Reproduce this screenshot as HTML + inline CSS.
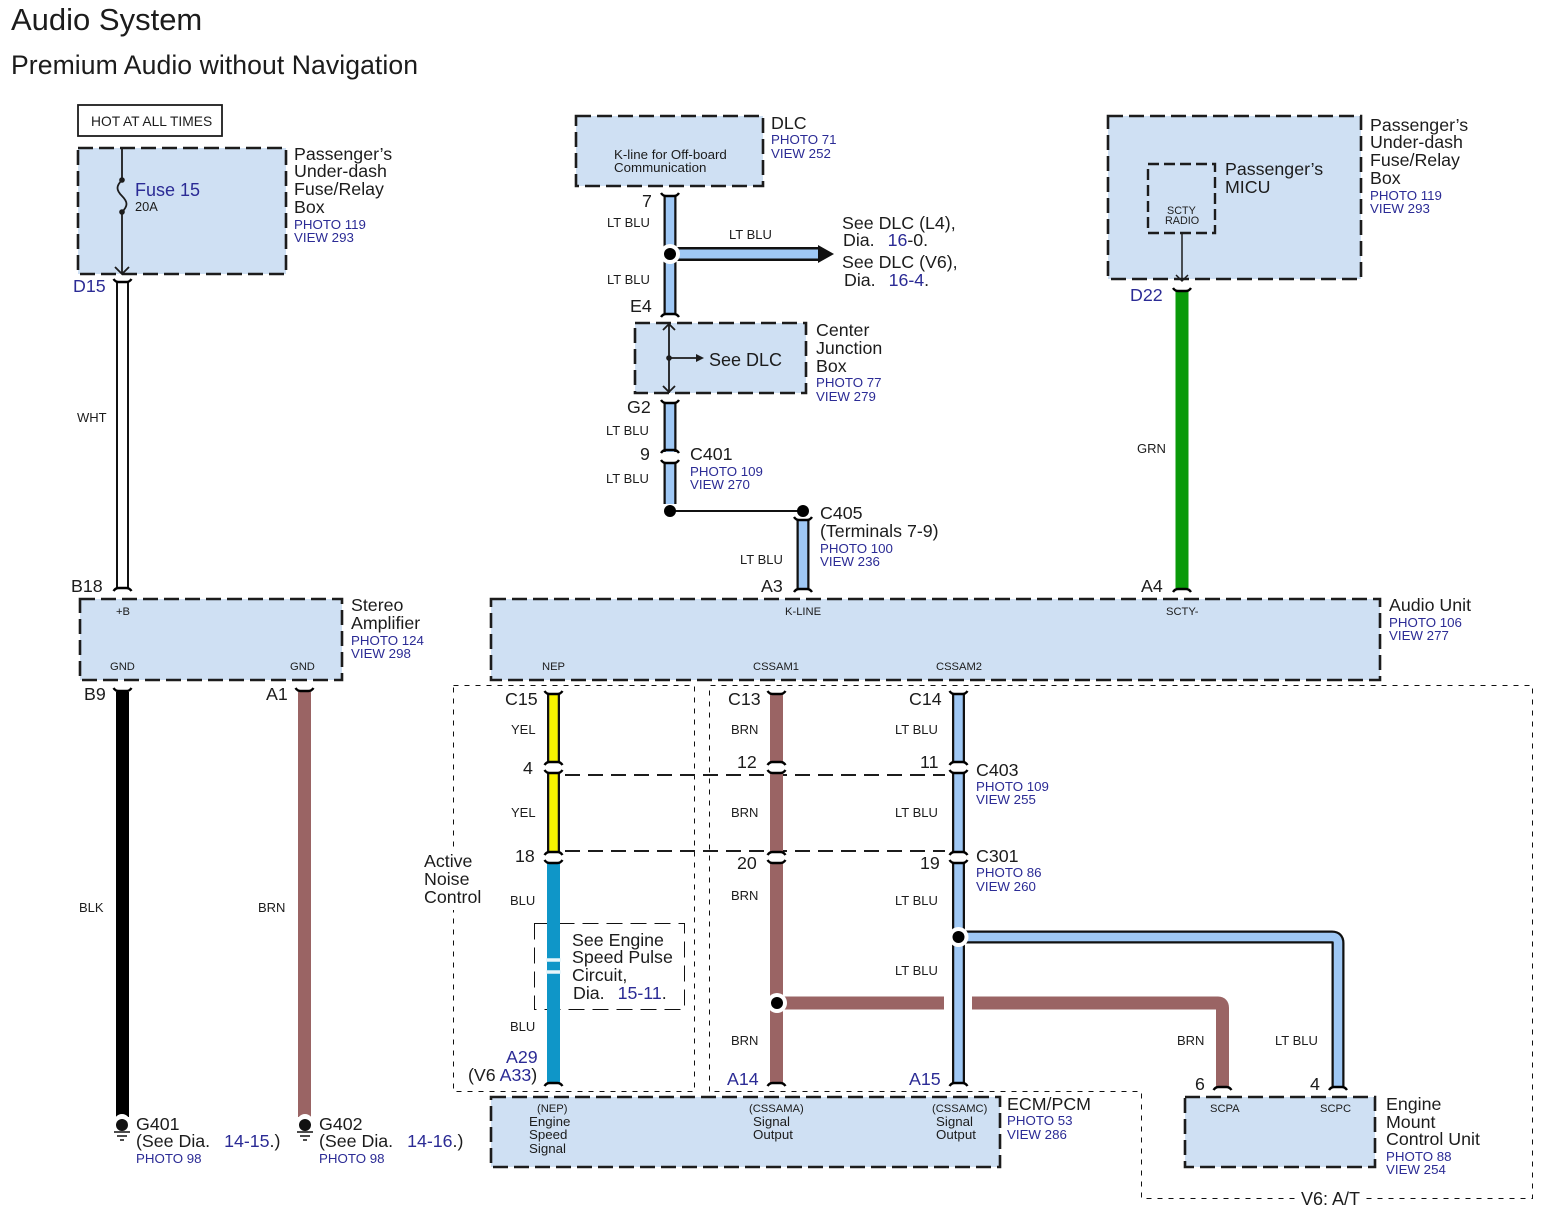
<!DOCTYPE html>
<html><head><meta charset="utf-8"><style>
html,body{margin:0;padding:0;background:#fff}
svg{display:block}
text{font-family:"Liberation Sans",sans-serif;fill:#1c1c1c}
.t{font-size:17.8px}.n{font-size:17.8px}
.p{font-size:13.3px;fill:#2b2b95}
.w{font-size:13px}.s{font-size:11.2px}
.l{font-size:13.3px}
.box{fill:#cfe0f3;stroke:#1c1c1c;stroke-width:2.6;stroke-dasharray:15 6}
.thin{fill:none;stroke:#111;stroke-width:1;stroke-dasharray:5 6}
.cap{fill:none;stroke:#000;stroke-width:2.4}
</style></head><body>
<svg width="1542" height="1214" viewBox="0 0 1542 1214" xmlns="http://www.w3.org/2000/svg">
<defs>
<path id="ct" class="cap" d="M-9 -2Q-7 1 -4 1H4Q7 1 9 -2"/>
<path id="cb" class="cap" d="M-9 2Q-7 -1 -4 -1H4Q7 -1 9 2"/>
<g id="gnd"><circle cx="0" cy="0" r="6" fill="#111"/><path d="M-8 7H8M-5 11H5M-2 15H2" stroke="#111" stroke-width="1.6"/></g>
</defs>
<rect width="1542" height="1214" fill="#fff"/>

<text x="11" y="30" font-size="31">Audio System</text>
<text x="11" y="74" font-size="26.600" textLength="407">Premium Audio without Navigation</text>

<!-- thin dashed zones -->
<path class="thin" d="M453.500 685.500H694.500V1091.500H453.500Z"/>
<path class="thin" d="M709.500 1091.500V685.500H1532.500V1198.500H1141.500V1091.500Z"/>
<path class="thin" d="M534.500 923.500H684.500V1009.500H534.500Z" style="stroke-dasharray:16 8"/>
<path d="M565 775H945M565 851H945" fill="none" stroke="#1c1c1c" stroke-width="2" stroke-dasharray="15 8"/>
<rect x="421" y="850" width="62" height="60" fill="#fff"/>

<!-- boxes -->
<rect x="78" y="105" width="144" height="31" fill="none" stroke="#1c1c1c" stroke-width="1.800"/>
<text x="91" y="126" font-size="13.800">HOT AT ALL TIMES</text>
<rect class="box" x="78" y="148" width="208" height="126"/>
<rect class="box" x="576" y="116" width="187" height="70"/>
<rect class="box" x="635" y="323" width="171" height="70"/>
<rect class="box" x="1108" y="116" width="253" height="163"/>
<rect x="1148" y="164" width="67" height="69" fill="none" stroke="#1c1c1c" stroke-width="2.400" stroke-dasharray="11 5"/>
<rect class="box" x="80" y="599" width="262" height="81"/>
<rect class="box" x="491" y="599" width="889" height="81"/>
<rect class="box" x="491" y="1097" width="509" height="70"/>
<rect class="box" x="1185" y="1097" width="190" height="70"/>

<!-- fuse box inner -->
<path d="M122 148V180M122 212V274M115 267L122 274L129 267" fill="none" stroke="#1c1c1c" stroke-width="1.800"/>
<path d="M122 180C116 186 116 190 122 196C128 202 128 206 122 212" fill="none" stroke="#1c1c1c" stroke-width="1.800"/>
<circle cx="122" cy="180" r="2.800" fill="#1c1c1c"/><circle cx="122" cy="212" r="2.800" fill="#1c1c1c"/>
<text x="135" y="196" font-size="18" style="fill:#2b2b95">Fuse 15</text>
<text x="135" y="211" font-size="12.800">20A</text>

<!-- center junction inner -->
<path d="M669 323V393M663 330L669 324L675 330M663 386L669 392L675 386M669 358H697" fill="none" stroke="#1c1c1c" stroke-width="1.800"/>
<path d="M696 354L704 358L696 362Z" fill="#1c1c1c"/>
<circle cx="669" cy="358" r="2.800" fill="#1c1c1c"/>
<text x="709" y="366" font-size="18">See DLC</text>

<!-- micu arrow -->
<path d="M1182 233V281M1176 275L1182 281L1188 275" fill="none" stroke="#1c1c1c" stroke-width="1.500"/>

<!-- WIRES -->
<path d="M122.500 282V588" stroke="#111" stroke-width="13"/><path d="M122.500 282V588" stroke="#fff" stroke-width="9"/>
<path d="M122.500 692V1117" stroke="#000" stroke-width="13"/>
<path d="M304.500 692V1117" stroke="#9a6464" stroke-width="13"/>
<g fill="none">
<path d="M670 196V314M670 402V452M670 462V504M803 519V589M958.500 693V763M958.500 772V852M958.500 863V1084" stroke="#111" stroke-width="13"/>
<path d="M670 196V314M670 402V452M670 462V504M803 519V589M958.500 693V763M958.500 772V852M958.500 863V1084" stroke="#9fc8f5" stroke-width="8.500"/>
<path d="M670 254H820" stroke="#111" stroke-width="14"/><path d="M670 254H820" stroke="#9fc8f5" stroke-width="9"/>
<path d="M958 937H1332Q1338 937 1338 943V1087" stroke="#111" stroke-width="13"/>
<path d="M958 937H1332Q1338 937 1338 943V1087" stroke="#9fc8f5" stroke-width="8.500"/>
<path d="M553.500 693V763M553.500 772V852" stroke="#111" stroke-width="13"/>
<path d="M553.500 693V763M553.500 772V852" stroke="#f8f400" stroke-width="8.500"/>
<path d="M553.500 863V1083" stroke="#0f96c8" stroke-width="13"/>
<path d="M546 960H561M546 972H561" stroke="#e8f6fb" stroke-width="3.500"/>
<path d="M776.500 693V763M776.500 772V852M776.500 863V1083" stroke="#9a6464" stroke-width="13"/>
<path d="M776 1003H944M972 1003H1218Q1222.500 1003 1222.500 1008V1087" stroke="#9a6464" stroke-width="13"/>
</g>
<path d="M818 245L834 254L818 263Z" fill="#111"/>
<path d="M1182 290V588" stroke="#0a9a0a" stroke-width="13"/>
<path d="M670 511H803" stroke="#111" stroke-width="2"/>

<!-- junctions -->
<circle cx="670" cy="254" r="10" fill="#fff"/><circle cx="670" cy="254" r="6" fill="#000"/>
<circle cx="958.500" cy="937" r="10" fill="#fff"/><circle cx="958.500" cy="937" r="6" fill="#000"/>
<circle cx="777" cy="1003" r="10" fill="#fff"/><circle cx="777" cy="1003" r="6" fill="#000"/>
<circle cx="670" cy="511" r="6" fill="#000"/><circle cx="803" cy="511" r="6" fill="#000"/>

<!-- caps -->
<use href="#ct" x="122.500" y="281"/><use href="#cb" x="122.500" y="589"/>
<use href="#ct" x="122.500" y="690"/><use href="#ct" x="304.500" y="690"/>
<use href="#ct" x="670" y="195"/><use href="#cb" x="670" y="315"/>
<use href="#ct" x="670" y="402"/><use href="#cb" x="670" y="451"/><use href="#ct" x="670" y="462"/>
<use href="#ct" x="803" y="519"/><use href="#cb" x="803" y="590"/>
<use href="#ct" x="1182" y="290"/><use href="#cb" x="1182" y="590"/>
<use href="#ct" x="553.500" y="693"/><use href="#cb" x="553.500" y="763"/><use href="#ct" x="553.500" y="772"/><use href="#cb" x="553.500" y="853"/><use href="#ct" x="553.500" y="862"/><use href="#cb" x="553.500" y="1084"/>
<use href="#ct" x="776.500" y="693"/><use href="#cb" x="776.500" y="763"/><use href="#ct" x="776.500" y="772"/><use href="#cb" x="776.500" y="853"/><use href="#ct" x="776.500" y="862"/><use href="#cb" x="776.500" y="1084"/>
<use href="#ct" x="958.500" y="693"/><use href="#cb" x="958.500" y="763"/><use href="#ct" x="958.500" y="772"/><use href="#cb" x="958.500" y="853"/><use href="#ct" x="958.500" y="862"/><use href="#cb" x="958.500" y="1084"/>
<use href="#cb" x="1222.500" y="1088"/><use href="#cb" x="1338" y="1088"/>

<!-- grounds -->
<circle cx="122" cy="1122" r="8" fill="#fff"/><circle cx="305" cy="1122" r="8" fill="#fff"/>
<use href="#gnd" x="122" y="1125"/><use href="#gnd" x="305" y="1125"/>

<!-- component labels -->
<text class="t" x="294" y="160">Passenger’s</text><text class="t" x="294" y="177">Under-dash</text><text class="t" x="294" y="195">Fuse/Relay</text><text class="t" x="294" y="213">Box</text>
<text class="p" x="294" y="229">PHOTO 119</text><text class="p" x="294" y="242">VIEW 293</text>

<text class="t" x="771" y="129">DLC</text><text class="p" x="771" y="144">PHOTO 71</text><text class="p" x="771" y="158">VIEW 252</text>
<text x="614" y="159" class="l">K-line for Off-board</text><text x="614" y="172" class="l">Communication</text>

<text class="t" x="842" y="229">See DLC (L4),</text><text class="t" x="843" y="246">Dia. <tspan dx="8" style="fill:#2b2b95">16</tspan>-0.</text>
<text class="t" x="842" y="268">See DLC (V6),</text><text class="t" x="844" y="286">Dia. <tspan dx="8" style="fill:#2b2b95">16-4</tspan>.</text>

<text class="t" x="816" y="336">Center</text><text class="t" x="816" y="354">Junction</text><text class="t" x="816" y="372">Box</text>
<text class="p" x="816" y="387">PHOTO 77</text><text class="p" x="816" y="401">VIEW 279</text>

<text class="t" x="1370" y="131">Passenger’s</text><text class="t" x="1370" y="148">Under-dash</text><text class="t" x="1370" y="166">Fuse/Relay</text><text class="t" x="1370" y="184">Box</text>
<text class="p" x="1370" y="200">PHOTO 119</text><text class="p" x="1370" y="213">VIEW 293</text>
<text class="t" x="1225" y="175">Passenger’s</text><text class="t" x="1225" y="193">MICU</text>
<text x="1167" y="214" font-size="10.800">SCTY</text><text x="1165" y="224" font-size="10.800">RADIO</text>

<text class="t" x="690" y="460">C401</text><text class="p" x="690" y="476">PHOTO 109</text><text class="p" x="690" y="489">VIEW 270</text>
<text class="t" x="820" y="519">C405</text><text class="t" x="820" y="537">(Terminals 7-9)</text><text class="p" x="820" y="553">PHOTO 100</text><text class="p" x="820" y="566">VIEW 236</text>

<text class="t" x="351" y="611">Stereo</text><text class="t" x="351" y="629">Amplifier</text><text class="p" x="351" y="645">PHOTO 124</text><text class="p" x="351" y="658">VIEW 298</text>
<text class="t" x="1389" y="611">Audio Unit</text><text class="p" x="1389" y="627">PHOTO 106</text><text class="p" x="1389" y="640">VIEW 277</text>

<text class="t" x="976" y="776">C403</text><text class="p" x="976" y="791">PHOTO 109</text><text class="p" x="976" y="804">VIEW 255</text>
<text class="t" x="976" y="862">C301</text><text class="p" x="976" y="877">PHOTO 86</text><text class="p" x="976" y="891">VIEW 260</text>

<text class="t" x="424" y="867">Active</text><text class="t" x="424" y="885">Noise</text><text class="t" x="424" y="903">Control</text>
<text class="t" x="572" y="946">See Engine</text><text class="t" x="572" y="963">Speed Pulse</text><text class="t" x="572" y="981">Circuit,</text><text class="t" x="573" y="999">Dia. <tspan dx="8" style="fill:#2b2b95">15-11</tspan>.</text>

<text class="t" x="1007" y="1110">ECM/PCM</text><text class="p" x="1007" y="1125">PHOTO 53</text><text class="p" x="1007" y="1139">VIEW 286</text>
<text class="t" x="1386" y="1110">Engine</text><text class="t" x="1386" y="1128">Mount</text><text class="t" x="1386" y="1145">Control Unit</text><text class="p" x="1386" y="1161">PHOTO 88</text><text class="p" x="1386" y="1174">VIEW 254</text>

<text class="t" x="136" y="1130">G401</text><text class="t" x="136" y="1147">(See Dia. <tspan dx="9" style="fill:#2b2b95">14-15</tspan>.)</text><text class="p" x="136" y="1163">PHOTO 98</text>
<text class="t" x="319" y="1130">G402</text><text class="t" x="319" y="1147">(See Dia. <tspan dx="9" style="fill:#2b2b95">14-16</tspan>.)</text><text class="p" x="319" y="1163">PHOTO 98</text>

<rect x="1298" y="1190" width="68" height="20" fill="#fff"/>
<text x="1301" y="1205" font-size="18">V6: A/T</text>

<!-- pin labels -->
<text class="n" x="73" y="292" style="fill:#2b2b95">D15</text>
<text class="n" x="1130" y="301" style="fill:#2b2b95">D22</text>
<text class="n" x="71" y="592">B18</text>
<text class="n" x="84" y="700">B9</text>
<text class="n" x="266" y="700">A1</text>
<text class="n" x="642" y="207">7</text>
<text class="n" x="630" y="312">E4</text>
<text class="n" x="627" y="413">G2</text>
<text class="n" x="640" y="460">9</text>
<text class="n" x="761" y="592">A3</text>
<text class="n" x="1141" y="592">A4</text>
<text class="n" x="505" y="705">C15</text><text class="n" x="728" y="705">C13</text><text class="n" x="909" y="705">C14</text>
<text class="n" x="523" y="774">4</text><text class="n" x="737" y="768">12</text><text class="n" x="920" y="768">11</text>
<text class="n" x="515" y="862">18</text><text class="n" x="737" y="869">20</text><text class="n" x="920" y="869">19</text>
<text class="n" x="506" y="1063" style="fill:#2b2b95">A29</text>
<text class="n" x="468" y="1081">(V6 <tspan style="fill:#2b2b95">A33</tspan>)</text>
<text class="n" x="727" y="1085" style="fill:#2b2b95">A14</text>
<text class="n" x="909" y="1085" style="fill:#2b2b95">A15</text>
<text class="n" x="1195" y="1090">6</text><text class="n" x="1310" y="1090">4</text>

<!-- wire colour labels -->
<text class="w" x="77" y="422">WHT</text>
<text class="w" x="79" y="912">BLK</text>
<text class="w" x="258" y="912">BRN</text>
<text class="w" x="607" y="227">LT BLU</text>
<text class="w" x="729" y="239">LT BLU</text>
<text class="w" x="607" y="284">LT BLU</text>
<text class="w" x="606" y="435">LT BLU</text>
<text class="w" x="606" y="483">LT BLU</text>
<text class="w" x="740" y="564">LT BLU</text>
<text class="w" x="1137" y="453">GRN</text>
<text class="w" x="511" y="734">YEL</text><text class="w" x="511" y="817">YEL</text>
<text class="w" x="510" y="905">BLU</text><text class="w" x="510" y="1031">BLU</text>
<text class="w" x="731" y="734">BRN</text><text class="w" x="731" y="817">BRN</text><text class="w" x="731" y="900">BRN</text><text class="w" x="731" y="1045">BRN</text>
<text class="w" x="895" y="734">LT BLU</text><text class="w" x="895" y="817">LT BLU</text><text class="w" x="895" y="905">LT BLU</text><text class="w" x="895" y="975">LT BLU</text>
<text class="w" x="1177" y="1045">BRN</text><text class="w" x="1275" y="1045">LT BLU</text>

<!-- terminal labels -->
<text class="s" x="116" y="615">+B</text>
<text class="s" x="110" y="670">GND</text><text class="s" x="290" y="670">GND</text>
<text class="s" x="785" y="615">K-LINE</text><text class="s" x="1166" y="615">SCTY-</text>
<text class="s" x="542" y="670">NEP</text><text class="s" x="753" y="670">CSSAM1</text><text class="s" x="936" y="670">CSSAM2</text>
<text class="s" x="537" y="1112">(NEP)</text><text x="529" y="1126" class="l">Engine</text><text x="529" y="1139" class="l">Speed</text><text x="529" y="1153" class="l">Signal</text>
<text class="s" x="749" y="1112">(CSSAMA)</text><text x="753" y="1126" class="l">Signal</text><text x="753" y="1139" class="l">Output</text>
<text class="s" x="932" y="1112">(CSSAMC)</text><text x="936" y="1126" class="l">Signal</text><text x="936" y="1139" class="l">Output</text>
<text class="s" x="1210" y="1112">SCPA</text><text class="s" x="1320" y="1112">SCPC</text>
</svg>
</body></html>
